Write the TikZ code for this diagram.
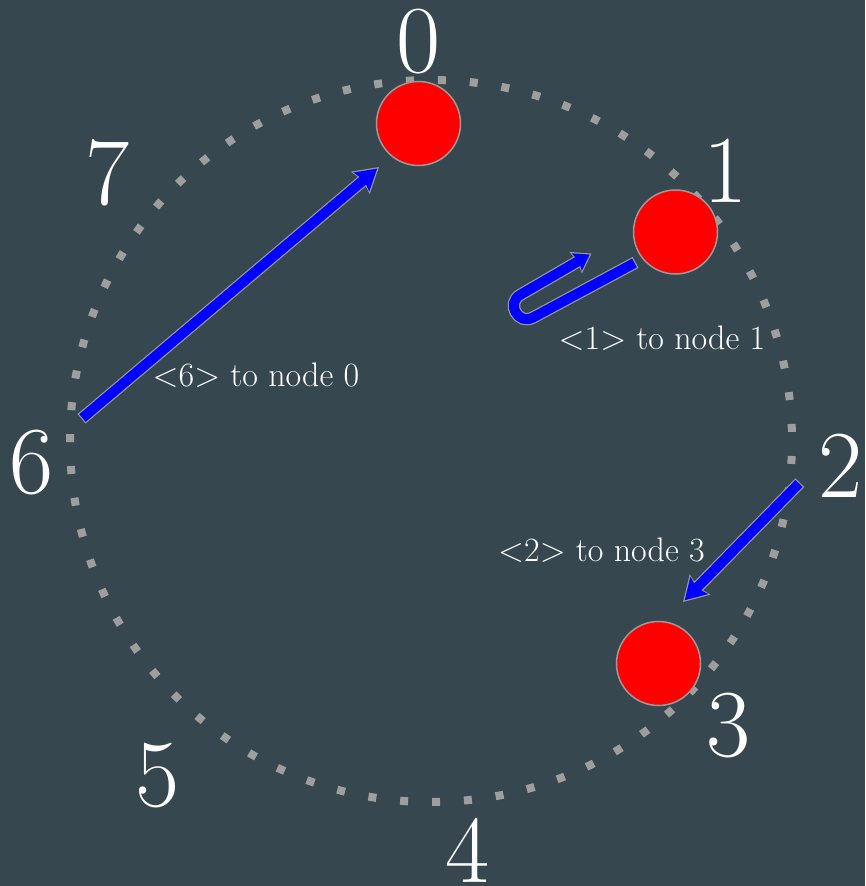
\documentclass[tikz,border=0pt]{standalone}
\usepackage{fontspec}
\usetikzlibrary{arrows.meta}
\definecolor{bg}{HTML}{37474F}
\definecolor{dotgray}{HTML}{9E9E9E}
\definecolor{rimgray}{HTML}{9A9A9A}
\tikzset{
  numlbl/.style={text=white, font=\fontsize{96}{96}\selectfont, inner sep=0pt, anchor=base},
  txtlbl/.style={text=white, font=\fontsize{34}{34}\selectfont, inner sep=0pt, anchor=base},
  rednode/.style={circle, fill=red, draw=rimgray, line width=1.5pt, minimum size=84pt, inner sep=0pt},
  ring/.style={draw=dotgray, line width=8pt, dash pattern=on 8pt off 23.95pt, dash phase=17pt},
  arrout/.style={rimgray, line width=12.4pt, shorten <=-1.2pt, -{Stealth[length=24pt,width=28pt,inset=3pt]}},
  arrin/.style={blue, line width=10pt, shorten >=2.4pt, -{Stealth[length=20.4pt,width=23.8pt,inset=3pt]}},
  loopout/.style={rimgray, line width=12.4pt, shorten <=-1.2pt, -{Stealth[length=18pt,width=24pt,inset=2pt]}},
  loopin/.style={blue, line width=10pt, shorten >=2.1pt, -{Stealth[length=14.7pt,width=19.6pt,inset=2pt]}}
}
\begin{document}
\begin{tikzpicture}[x=1pt,y=-1pt]
\fill[bg] (0,0) rectangle (865,886);
\useasboundingbox (0,0) rectangle (865,886);
\draw[ring] (431,441) circle[radius=361];
% red nodes
\node[rednode] (n0) at (418.5,123.5) {};
\node[rednode] (n1) at (675.5,232) {};
\node[rednode] (n3) at (658.5,663.5) {};
% position numbers
\node[numlbl] (l0) at (419,72) {0};
\node[numlbl] (l1) at (726,202) {1};
\node[numlbl] (l2) at (841,497) {2};
\node[numlbl] (l3) at (729,756) {3};
\node[numlbl] (l4) at (468,882) {4};
\node[numlbl] (l5) at (158,806) {5};
\node[numlbl] (l6) at (32,493) {6};
\node[numlbl] (l7) at (108,204) {7};
% connector end points
\coordinate (s6) at (82.5,418);
\coordinate (e6) at (379,167);
\coordinate (s2) at (799,483.5);
\coordinate (e2) at (683,602);
\coordinate (ls) at (634.5,263);
\coordinate (lL) at (533.3,317.4);
\coordinate (lU) at (520.7,294.6);
\coordinate (le) at (591.5,253.5);
% arrows
\draw[arrout] (s6) -- (e6);
\draw[arrin] (s6) -- (e6);
\draw[arrout] (s2) -- (e2);
\draw[arrin] (s2) -- (e2);
\draw[loopout] (ls) -- (lL) .. controls (518.1,325.8) and (505.5,303) .. (lU) -- (le);
\draw[loopin] (ls) -- (lL) .. controls (518.1,325.8) and (505.5,303) .. (lU) -- (le);
% text labels
\node[txtlbl] (t6) at (256,386) {<6> to node 0};
\node[txtlbl] (t1) at (662,349) {<1> to node 1};
\node[txtlbl] (t2) at (601.5,561) {<2> to node 3};
\end{tikzpicture}
\end{document}
